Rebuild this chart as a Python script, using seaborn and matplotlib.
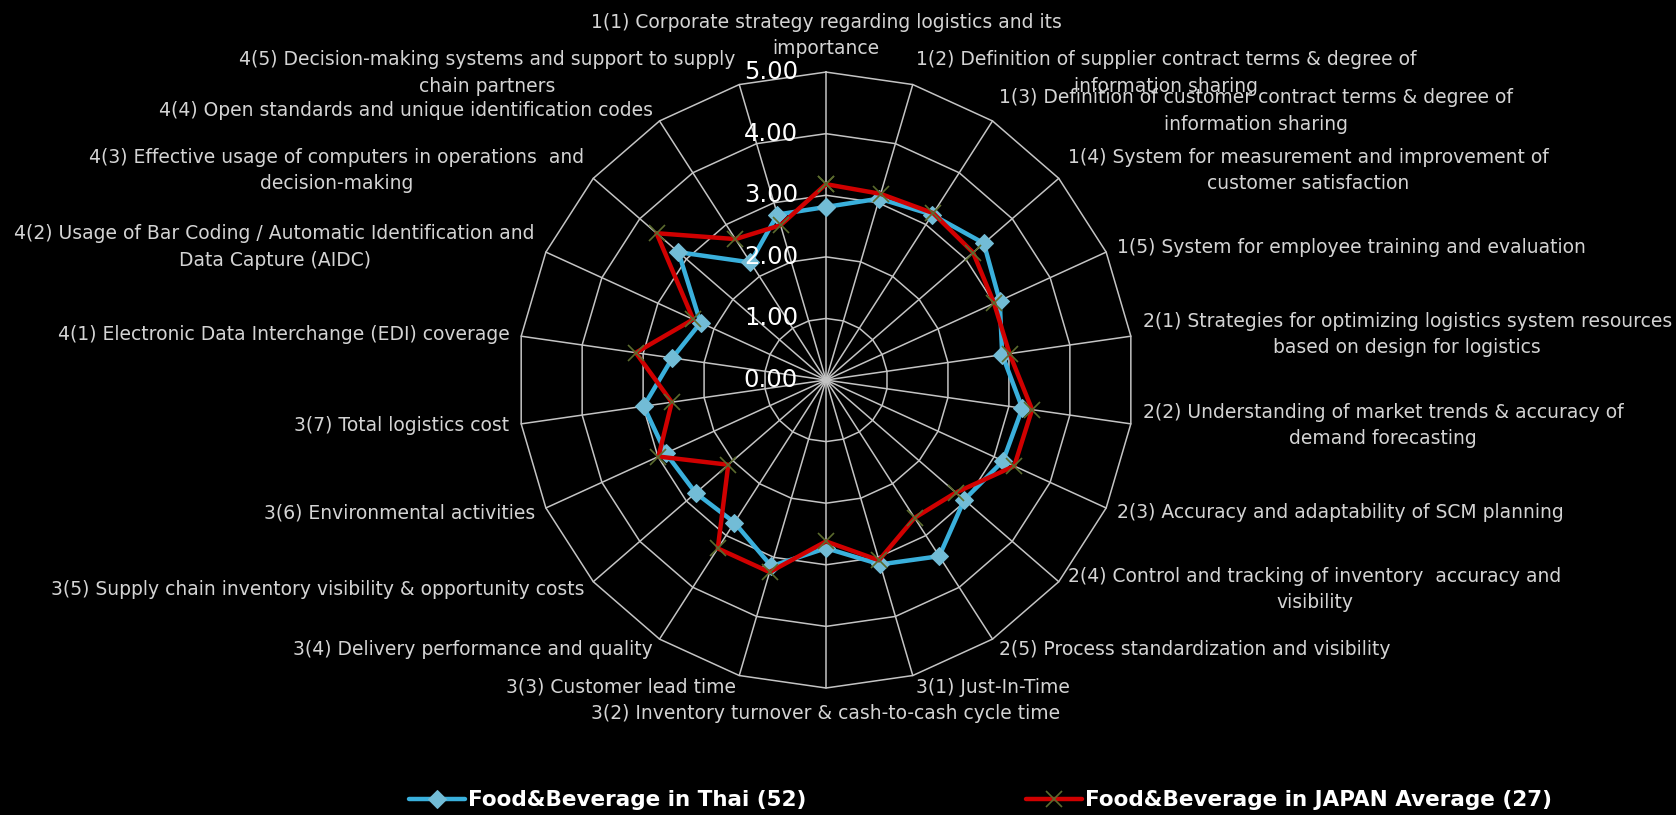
import numpy as np
import pandas as pd
import matplotlib
matplotlib.use("Agg")
import matplotlib.pyplot as plt
import seaborn as sns

# Evaluation items (clockwise from the top)
categories = [
    "1(1) Corporate strategy regarding logistics and its\nimportance",
    "1(2) Definition of supplier contract terms & degree of\ninformation sharing",
    "1(3) Definition of customer contract terms & degree of\ninformation sharing",
    "1(4) System for measurement and improvement of\ncustomer satisfaction",
    "1(5) System for employee training and evaluation",
    "2(1) Strategies for optimizing logistics system resources\nbased on design for logistics",
    "2(2) Understanding of market trends & accuracy of\ndemand forecasting",
    "2(3) Accuracy and adaptability of SCM planning",
    "2(4) Control and tracking of inventory  accuracy and\nvisibility",
    "2(5) Process standardization and visibility",
    "3(1) Just-In-Time",
    "3(2) Inventory turnover & cash-to-cash cycle time",
    "3(3) Customer lead time",
    "3(4) Delivery performance and quality",
    "3(5) Supply chain inventory visibility & opportunity costs",
    "3(6) Environmental activities",
    "3(7) Total logistics cost",
    "4(1) Electronic Data Interchange (EDI) coverage",
    "4(2) Usage of Bar Coding / Automatic Identification and\nData Capture (AIDC)",
    "4(3) Effective usage of computers in operations  and\ndecision-making",
    "4(4) Open standards and unique identification codes",
    "4(5) Decision-making systems and support to supply\nchain partners",
]

thai_scores = [2.81, 3.07, 3.19, 3.39, 3.10, 2.89, 3.22, 3.16, 2.97, 3.40, 3.12,
               2.73, 3.15, 2.75, 2.80, 2.86, 2.99, 2.52, 2.24, 3.17, 2.27, 2.80]
japan_scores = [3.18, 3.15, 3.22, 3.16, 3.00, 3.01, 3.38, 3.36, 2.79, 2.66, 3.05,
                2.62, 3.25, 3.25, 2.10, 2.99, 2.53, 3.12, 2.37, 3.64, 2.72, 2.62]

series_names = ["Food&Beverage in Thai (52)", "Food&Beverage in JAPAN Average (27)"]
ring_levels = [0, 1, 2, 3, 4, 5]
tick_labels = [f"{v:.2f}" for v in ring_levels]

sns.set_style("white")
plt.rcParams["font.family"] = ["DejaVu Sans"]

n = len(categories)
theta = np.linspace(0, 2 * np.pi, n, endpoint=False)
theta_closed = np.append(theta, 2 * np.pi)

fig = plt.figure(figsize=(16.76, 8.15), dpi=100, facecolor="black")
ax = fig.add_axes([0.3091, 0.1558, 0.3675, 0.7558], projection="polar")
ax.set_facecolor("black")
ax.set_theta_zero_location("N")
ax.set_theta_direction(-1)
ax.set_ylim(0, 5)
ax.grid(False)
ax.set_xticks([])
ax.set_yticks([])
ax.spines["polar"].set_visible(False)

# Polygonal web: rings and spokes
grid_color = "#c4c4c4"
for lvl in ring_levels[1:]:
    ax.plot(theta_closed, [lvl] * (n + 1), color=grid_color, lw=1.1, zorder=1, clip_on=False)
for t in theta:
    ax.plot([t, t], [0, ring_levels[-1]], color=grid_color, lw=1.1, zorder=1, clip_on=False)

# Data series
def closed(vals):
    return pd.DataFrame({"theta": theta_closed, "score": list(vals) + [vals[0]]})

sns.lineplot(data=closed(thai_scores), x="theta", y="score", ax=ax, sort=False,
             estimator=None, color="#3ab0dc", lw=3.2, marker="D", markersize=9,
             markerfacecolor="#72bcd6", markeredgecolor="#72bcd6",
             label=series_names[0], zorder=3)
sns.lineplot(data=closed(japan_scores), x="theta", y="score", ax=ax, sort=False,
             estimator=None, color="#d00000", lw=3.2, marker="x", markersize=11,
             markeredgecolor="#5b6b2e", markeredgewidth=1.2,
             label=series_names[1], zorder=4)
ax.set_xlabel("")
ax.set_ylabel("")
ax.set_ylim(0, 5)

# Value labels along the vertical axis
for lvl, txt in zip(ring_levels, tick_labels):
    ax.annotate(txt, xy=(0, lvl), xytext=(-28, 0), textcoords="offset pixels",
                ha="right", va="center", color="white", fontsize=17.5,
                annotation_clip=False, zorder=5)

# Category labels around the web
for t, lab in zip(theta, categories):
    s, c = np.sin(t), np.cos(t)
    if abs(s) < 0.1:
        ha = "center"
    else:
        ha = "left" if s > 0 else "right"
    if c > 0.99:
        va, d = "bottom", 14
    elif c < -0.99:
        va, d = "top", 16
    else:
        va, d = "center", 12
    ax.annotate(lab, xy=(t, 5), xytext=(s * d, c * d), textcoords="offset pixels",
                ha=ha, va=va, multialignment="center", color="#d4d4d4",
                fontsize=13.5, linespacing=1.5, annotation_clip=False)

handles, labels = ax.get_legend_handles_labels()
if ax.get_legend() is not None:
    ax.get_legend().remove()
fig.legend(handles, labels, loc="center", bbox_to_anchor=(0.585, 0.018), ncol=2,
           frameon=False, labelcolor="white", handlelength=2.6,
           handletextpad=0.15, columnspacing=10.2,
           prop={"family": "DejaVu Sans", "weight": "bold", "size": 15.5})

fig.savefig("out.png", dpi=100, facecolor="black")
